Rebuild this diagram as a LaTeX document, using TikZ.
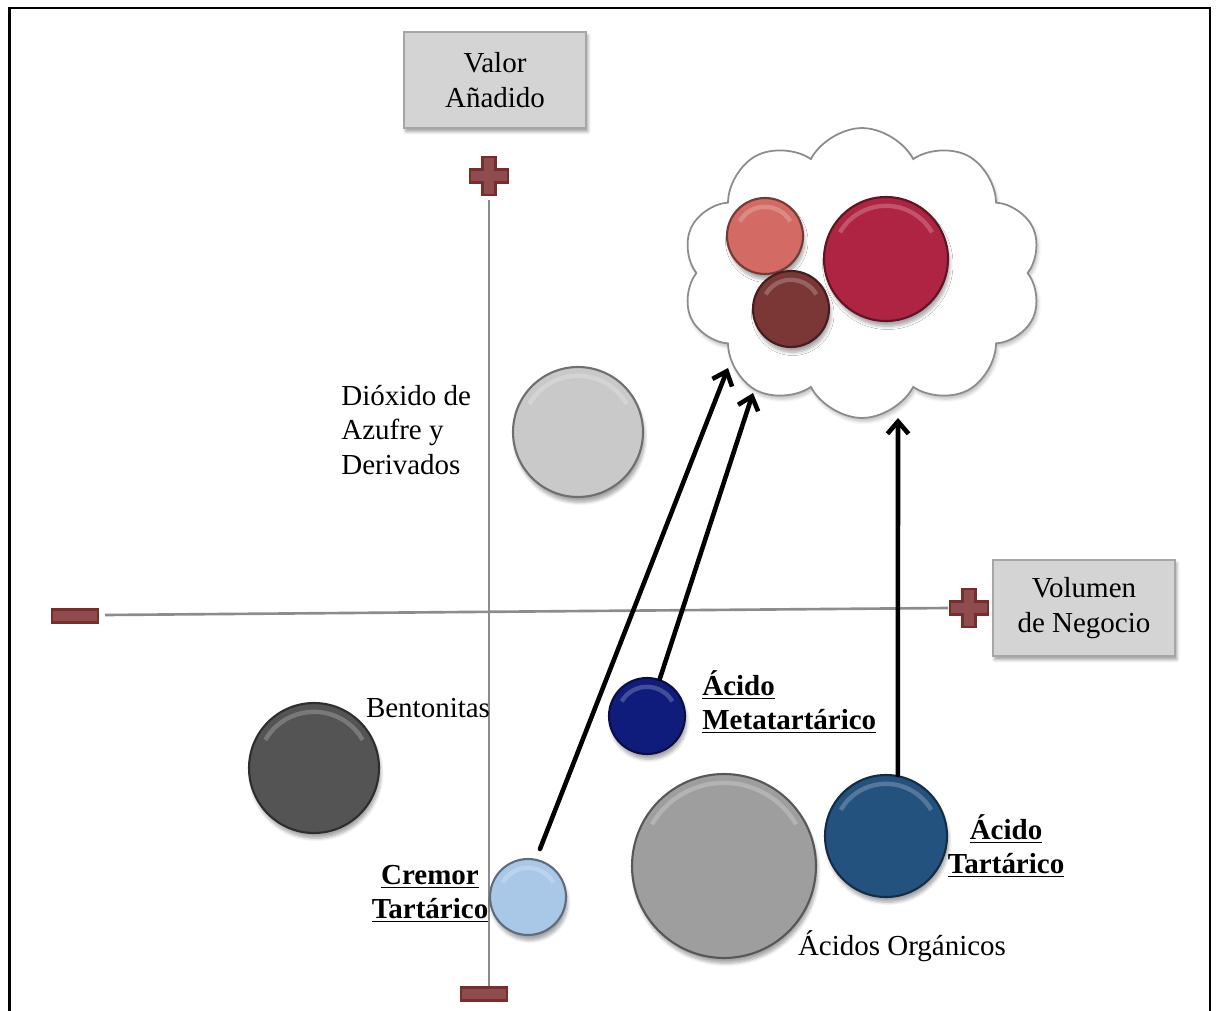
\documentclass[tikz,border=0pt]{standalone}
\usepackage{fontspec}
\setmainfont{Liberation Serif}
\usetikzlibrary{shapes.symbols,shadows.blur,arrows.meta,calc}

\definecolor{markfill}{HTML}{8F4C4C}
\definecolor{markdraw}{HTML}{7A2C2C}
\definecolor{rimblue}{HTML}{4F7FB4}
\definecolor{salmon}{HTML}{D36A63}
\definecolor{wine}{HTML}{7B3636}
\definecolor{crimson}{HTML}{AE2442}
\definecolor{lightgrey}{HTML}{C9C9C9}
\definecolor{darkgrey}{HTML}{545454}
\definecolor{navy}{HTML}{101C7C}
\definecolor{skyblue}{HTML}{A9C7E7}
\definecolor{midgrey}{HTML}{9E9E9E}
\definecolor{steelblue}{HTML}{24527F}

\tikzset{
  bubble/.style 2 args={circle,inner sep=0pt,minimum size=#2,fill=#1,draw=#1!55!black,line width=1.2pt,
    blur shadow={shadow xshift=1pt,shadow yshift=-3pt,shadow blur steps=6,shadow opacity=35},
    path picture={\draw[white,opacity=.22,line width=2.5pt]
      let \p1=($(path picture bounding box.north)-(path picture bounding box.center)$) in
      (path picture bounding box.center) ++(30:\y1-5pt) arc[start angle=30,end angle=150,radius=\y1-5pt];}},
  axisbox/.style={draw=black!35,fill=black!17,line width=1pt,minimum width=3.64cm,minimum height=1.92cm,
    align=center,blur shadow={shadow xshift=1pt,shadow yshift=-2pt,shadow blur steps=5,shadow opacity=40}},
  minusmark/.style={rectangle,fill=markfill,draw=markdraw,line width=1.2pt,minimum width=0.92cm,minimum height=0.26cm,inner sep=0pt},
  plusmark/.pic={\filldraw[fill=markfill,draw=markdraw,line width=1.2pt]
    (-19,-6.5) -- (-6.5,-6.5) -- (-6.5,-19) -- (6.5,-19) -- (6.5,-6.5) -- (19,-6.5) -- (19,6.5)
    -- (6.5,6.5) -- (6.5,19) -- (-6.5,19) -- (-6.5,6.5) -- (-19,6.5) -- cycle;},
  axis/.style={draw=black!45,line width=1.5pt},
  flow/.style={-{Straight Barb[length=7pt,width=12pt]},line width=2.6pt,line cap=round}
}

\begin{document}
\begin{tikzpicture}[x=0.02cm,y=-0.02cm,font=\fontsize{16.5}{19.6}\selectfont]

  \useasboundingbox (0,0) rectangle (1216,1010);
  \draw[line width=1.6pt] (9.5,1015) -- (9.5,8) -- (1210,8) -- (1210,1015);

  % axes
  \coordinate (vtop) at (489,200);
  \coordinate (vbot) at (489,994);
  \coordinate (hleft) at (105,615);
  \coordinate (hright) at (948,608);
  \path[axis] (vtop) -- (vbot);
  \path[axis] (hleft) -- (hright);
  \pic at (489,176) {plusmark};
  \pic at (969,608) {plusmark};
  \node[minusmark] (vminus) at (484,994) {};
  \node[minusmark] (hminus) at (75,616) {};

  \node[axisbox] (valor) at (495,80) {Valor\\Añadido};
  \node[axisbox] (volumen) at (1084,608) {Volumen\\de Negocio};

  % cloud
  \node[cloud,cloud puffs=10,cloud puff arc=125,cloud ignores aspect,minimum width=7.2cm,minimum height=5.8cm,
    draw=black!45,line width=1pt,fill=white,
    blur shadow={shadow xshift=1pt,shadow yshift=-2pt,shadow blur steps=5,shadow opacity=25}] (pool) at (862,273) {};

  \begin{scope}[every node/.append style={draw=rimblue}]
    \node[bubble={salmon}{1.52cm}] (salmon) at (765,236) {};
    \node[bubble={wine}{1.52cm}] (wine) at (791,309) {};
    \node[bubble={crimson}{2.48cm}] (crimson) at (886,259) {};
  \end{scope}

  \node[bubble={lightgrey}{2.6cm}] (dioxido) at (578,432) {};
  \node[bubble={darkgrey}{2.6cm}] (bento) at (314,768) {};
  \node[bubble={navy}{1.52cm}] (meta) at (647,716) {};
  \node[bubble={skyblue}{1.52cm}] (cremor) at (528,897) {};
  \node[bubble={midgrey}{3.68cm}] (organicos) at (724,866) {};
  \node[bubble={steelblue}{2.44cm}] (tart) at (886,836) {};

  \begin{scope}[every node/.style={inner sep=0pt}]
    \node[anchor=west,align=left] (dioxidolabel) at (341,430) {Dióxido de\\Azufre y\\Derivados};
    \node (bentolabel) at (428,708) {Bentonitas};
    \node[anchor=west,align=left] (metalabel) at (702,702) {\textbf{\underline{Ácido}}\\\textbf{\underline{Metatartárico}}};
    \node[align=center] (cremorlabel) at (430,894) {\textbf{\underline{Cremor}}\\\textbf{\underline{Tartárico}}};
    \node[align=center] (tartlabel) at (1006,846) {\textbf{\underline{Ácido}}\\\textbf{\underline{Tartárico}}};
    \node (organicoslabel) at (902,946) {Ácidos Orgánicos};
  \end{scope}

  % arrows into the cloud
  \coordinate (tipA) at (728,368);
  \coordinate (tipB) at (753,393);
  \coordinate (tipC) at (898,418);
  \draw[flow,shorten <=6pt] (cremor.78) -- (tipA);
  \draw[flow] (meta.71) -- (tipB);
  \draw[flow] (tart.79) -- (tipC);

\end{tikzpicture}
\end{document}
